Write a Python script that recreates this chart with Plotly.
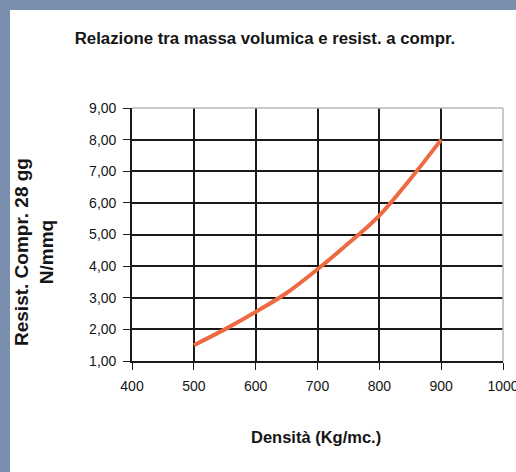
import plotly.graph_objects as go

# Data
densita = [500, 550, 600, 650, 700, 750, 800, 850, 900]
resistenza = [1.5, 2.0, 2.55, 3.15, 3.9, 4.72, 5.6, 6.75, 8.0]

x_ticks = [400, 500, 600, 700, 800, 900, 1000]
y_ticks = [1, 2, 3, 4, 5, 6, 7, 8, 9]

title_text = "Relazione tra massa volumica e resist. a compr."
x_title = "Densità (Kg/mc.)"
y_title = "Resist. Compr. 28 gg<br>N/mmq"

W, H = 516, 472
L, R, T, B = 132, 13, 108, 111
pw, ph = W - L - R, H - T - B

def px_x(p):
    return (p - L) / pw

def px_y(p):
    return (H - B - p) / ph

font_family = "Liberation Sans, Arial, sans-serif"
ink = "#151515"

fig = go.Figure()
fig.add_trace(go.Scatter(
    x=densita, y=resistenza, mode="lines",
    line=dict(color="#ee6a43", width=4, shape="spline"),
    hoverinfo="skip", showlegend=False,
))

axis_common = dict(
    showgrid=True, gridcolor="#1a1a1a", gridwidth=1.7,
    showline=True, linecolor="#1a1a1a", linewidth=1.7,
    ticks="outside", ticklen=7, tickcolor="#1a1a1a", tickwidth=1.4,
    zeroline=False, tickfont=dict(size=14, color=ink),
    ticklabelstandoff=4, ticklabeloverflow="allow", automargin=False,
)

fig.update_layout(
    width=W, height=H, autosize=False,
    margin=dict(l=L, r=R, t=T, b=B, autoexpand=False),
    paper_bgcolor="#7a8fad",
    plot_bgcolor="rgba(0,0,0,0)",
    separators=",.",
    font=dict(family=font_family, color=ink, size=14),
    title=dict(text="<b>" + title_text + "</b>", x=265 / W, xanchor="center",
               y=1 - 38 / H, yanchor="middle",
               font=dict(size=16.8, family=font_family, color=ink)),
    xaxis=dict(range=[400, 1000], tickvals=x_ticks, tickformat="d", **axis_common),
    yaxis=dict(range=[1, 9], tickvals=y_ticks, tickformat=".2f", **axis_common),
    shapes=[
        dict(type="rect", xref="paper", yref="paper",
             x0=px_x(10), x1=px_x(W + 5), y0=px_y(H + 5), y1=px_y(10),
             fillcolor="white", line=dict(width=0), layer="below"),
        dict(type="line", xref="paper", yref="paper", x0=0, x1=1, y0=1, y1=1,
             line=dict(color="#bdb5bd", width=1.5), layer="above"),
        dict(type="line", xref="paper", yref="paper", x0=1, x1=1, y0=0, y1=1,
             line=dict(color="#bdb5bd", width=1.5), layer="above"),
    ],
    annotations=[
        dict(text="<b>" + x_title + "</b>", xref="paper", yref="paper",
             x=px_x(316), y=px_y(437), showarrow=False,
             xanchor="center", yanchor="middle", font=dict(size=16.5)),
        dict(text="<b>" + y_title + "</b>", xref="paper", yref="paper",
             x=px_x(34), y=px_y(252), showarrow=False, textangle=-90,
             xanchor="center", yanchor="middle", font=dict(size=19)),
    ],
)

fig.write_html(
    "out.html",
    config={"displayModeBar": False, "responsive": False},
    post_script=(
        "document.body.style.margin='0';"
        "document.body.style.overflow='hidden';"
    ),
)
